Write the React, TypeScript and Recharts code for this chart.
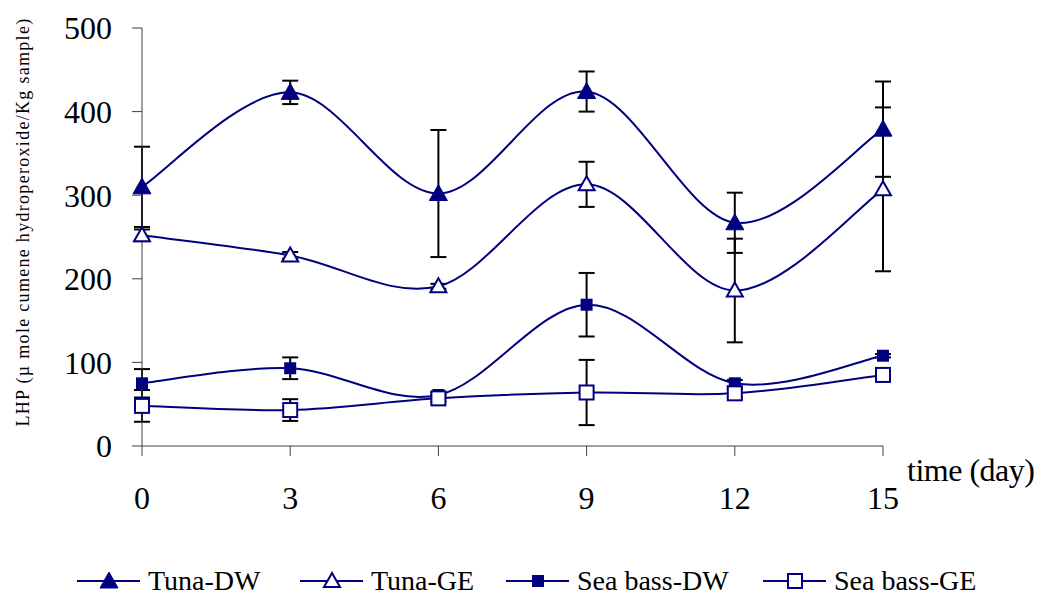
import * as React from 'react';
import { LineChart, Line, XAxis, YAxis, ErrorBar, Label } from 'recharts';

// lipid hydroperoxide readings per storage day
const days = [0, 3, 6, 9, 12, 15];
const tunaDW = [310, 423, 302, 424, 267, 379];
const tunaDWErr = [48, 14, 76, 24, 36, 57];
const tunaGE = [252, 228, 191, 313, 186, 307];
const tunaGEErr = [7, 4, 3, 27, 62, 98];
const seaBassDW = [75, 93, 61, 169, 75, 108];
const seaBassDWErr = [17, 13, 3, 38, 4, 2];
const seaBassGE = [48, 43, 57, 64, 63, 85];
const seaBassGEErr = [19, 13, 4, 39, 5, 3];
const yTicks = [0, 100, 200, 300, 400, 500];

const NAVY = '#000080';
const FONT = '"Liberation Serif", "Times New Roman", serif';

const rows = days.map((d, i) => ({
    day: d,
    tunaDW: tunaDW[i],
    tunaDWErr: tunaDWErr[i],
    tunaGE: tunaGE[i],
    tunaGEErr: tunaGEErr[i],
    seaBassDW: seaBassDW[i],
    seaBassDWErr: seaBassDWErr[i],
    seaBassGE: seaBassGE[i],
    seaBassGEErr: seaBassGEErr[i],
}));

// Excel-ish smoothed line (catmull-rom through the points)
const excelSmooth = (context: any) => {
    let pts: number[][] = [];
    return {
        areaStart() {},
        areaEnd() {},
        lineStart() { pts = []; },
        point(x: number, y: number) { pts.push([+x, +y]); },
        lineEnd() {
            const n = pts.length;
            if (!n) return;
            context.moveTo(pts[0][0], pts[0][1]);
            for (let i = 0; i < n - 1; i++) {
                const p0 = pts[Math.max(i - 1, 0)];
                const p1 = pts[i];
                const p2 = pts[i + 1];
                const p3 = pts[Math.min(i + 2, n - 1)];
                context.bezierCurveTo(
                    p1[0] + (p2[0] - p0[0]) / 6, p1[1] + (p2[1] - p0[1]) / 6,
                    p2[0] - (p3[0] - p1[0]) / 6, p2[1] - (p3[1] - p1[1]) / 6,
                    p2[0], p2[1]
                );
            }
        },
    };
};

type Shape = 'triFill' | 'triOpen' | 'sqFill' | 'sqOpen';

function Marker({ shape, cx, cy }: { shape: Shape; cx: number; cy: number }) {
    if (shape === 'triFill' || shape === 'triOpen') {
        const open = shape === 'triOpen';
        const h = open ? 7 : 8;
        const pts = `${cx},${cy - h - 1} ${cx - h - 1},${cy + h - 1} ${cx + h + 1},${cy + h - 1}`;
        return <polygon points={pts} fill={open ? '#fff' : NAVY} stroke={NAVY} strokeWidth={open ? 2 : 1} />;
    }
    if (shape === 'sqFill') {
        return <rect x={cx - 6} y={cy - 6} width={12} height={12} fill={NAVY} />;
    }
    return <rect x={cx - 7} y={cy - 7} width={14} height={14} fill="#fff" stroke={NAVY} strokeWidth={2} />;
}

const makeDot = (shape: Shape) => (p: any) => {
    if (p.cx == null || p.cy == null) return <g key={`e-${shape}-${p.index}`} />;
    return <Marker key={`${shape}-${p.index}`} shape={shape} cx={p.cx} cy={p.cy} />;
};

const series: { key: string; err: string; name: string; shape: Shape }[] = [
    { key: 'tunaDW', err: 'tunaDWErr', name: 'Tuna-DW', shape: 'triFill' },
    { key: 'tunaGE', err: 'tunaGEErr', name: 'Tuna-GE', shape: 'triOpen' },
    { key: 'seaBassDW', err: 'seaBassDWErr', name: 'Sea bass-DW', shape: 'sqFill' },
    { key: 'seaBassGE', err: 'seaBassGEErr', name: 'Sea bass-GE', shape: 'sqOpen' },
];

const legendLeft = [69, 292, 498, 755];

const yLabel = () => (
    <text
        x={15}
        y={214}
        transform="rotate(-90 15 214)"
        textAnchor="middle"
        dominantBaseline="central"
        fontSize={18}
        letterSpacing={1.3}
        fill="#000"
        fontFamily={FONT}
    >
        LHP (µ mole cumene hydroperoxide/Kg sample)
    </text>
);

const xLabel = (props: any) => {
    const vb = props.viewBox || {};
    return (
        <text x={vb.x + vb.width + 24} y={vb.y + 35} fontSize={32} letterSpacing={-0.5} fill="#000" fontFamily={FONT}>
            time (day)
        </text>
    );
};

export default function App() {
    return (
        <div style={{ fontFamily: FONT, width: 1030, height: 586, position: 'relative' }}>
            <LineChart width={1030} height={540} data={rows} margin={{ top: 20, right: 155, left: 0, bottom: 32 }}>
                <XAxis
                    dataKey="day"
                    type="number"
                    domain={[0, 15]}
                    ticks={days}
                    height={70}
                    stroke="#404040"
                    tickSize={10}
                    tickMargin={30}
                    tick={{ fontSize: 32, fill: '#000', fontFamily: FONT }}
                >
                    <Label content={xLabel} />
                </XAxis>
                <YAxis
                    domain={[0, 500]}
                    ticks={yTicks}
                    width={134}
                    stroke="#404040"
                    tickSize={10}
                    tickMargin={20}
                    tick={{ fontSize: 32, fill: '#000', fontFamily: FONT }}
                >
                    <Label content={yLabel} />
                </YAxis>
                {series.map((s) => (
                    <Line
                        key={s.key}
                        dataKey={s.key}
                        name={s.name}
                        type={excelSmooth as any}
                        stroke={NAVY}
                        strokeWidth={2}
                        dot={makeDot(s.shape)}
                        activeDot={false}
                        isAnimationActive={false}
                    >
                        <ErrorBar dataKey={s.err} direction="y" width={8} stroke="#000" strokeWidth={2} />
                    </Line>
                ))}
            </LineChart>
            {series.map((s, i) => (
                <div
                    key={s.key}
                    style={{
                        position: 'absolute',
                        left: legendLeft[i],
                        top: 561,
                        height: 24,
                        display: 'flex',
                        alignItems: 'center',
                        whiteSpace: 'nowrap',
                    }}
                >
                    <svg width={63} height={22}>
                        <line x1={0} y1={11} x2={63} y2={11} stroke={NAVY} strokeWidth={2} />
                        <Marker shape={s.shape} cx={32} cy={11} />
                    </svg>
                    <span style={{ marginLeft: 8, fontSize: 28, lineHeight: '22px', color: '#000' }}>{s.name}</span>
                </div>
            ))}
        </div>
    );
}
